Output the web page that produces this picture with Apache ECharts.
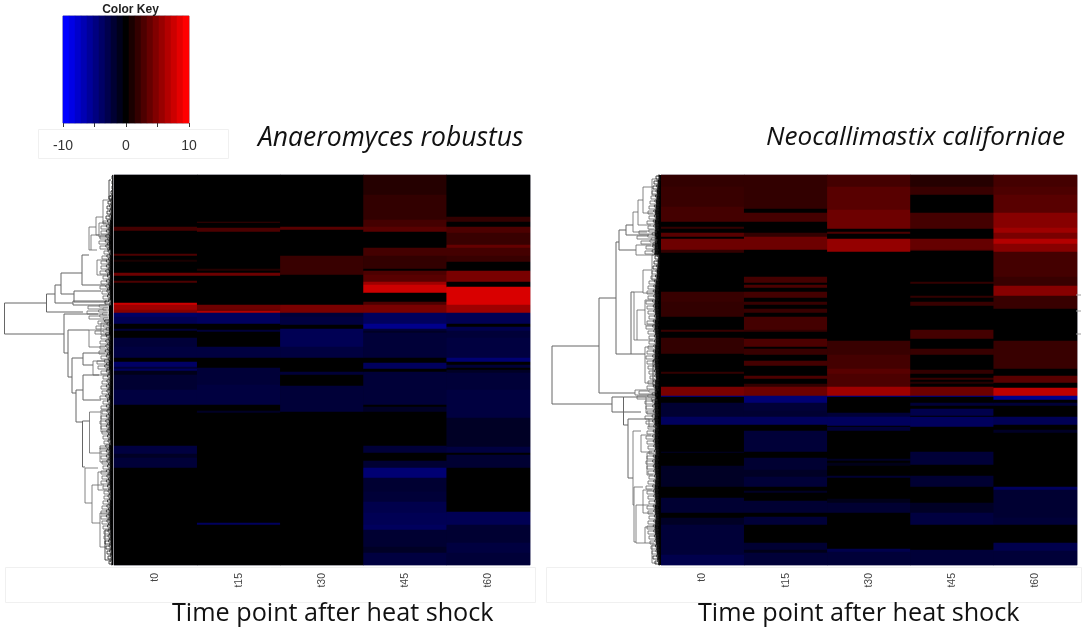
<!DOCTYPE html>
<html><head><meta charset="utf-8">
<style>html,body{margin:0;padding:0;background:#fff}#c{width:1084px;height:629px;filter:blur(0.45px)}</style>
<script src="https://cdn.jsdelivr.net/npm/echarts@6/dist/echarts.min.js"></script>
</head><body><div id="c"></div>
<script>
const timePoints = ['t0','t15','t30','t45','t60'];
const keySteps = [-10,-9,-8,-7,-6,-5,-4,-3,-2,-1,0,1,2,3,4,5,6,7,8,9,10];

// Each list: [row where the band ends, log2 fold change of that band]
const anaT0 = [[52,0],[56,2.7],[79,0],[81,3],[85,0],[87,1],[98,0],[101,4.3],[106,0],[108,3],[128,0],[130,8],[135,6.2],[138,5.3],[142,-4],[149,-3.3],[154,0],[156,-2.2],[163,0],[172,-2.2],[183,-2.5],[187,0],[192,-4],[194,-2.2],[196,-3.7],[200,-1],[215,-2],[230,-2.5],[271,0],[279,-2.5],[283,-1.5],[293,-2.2],[390,0]];
const anaT15 = [[47,0],[48,2.2],[53,0],[57,3],[94,0],[96,1.5],[98,0],[101,4.3],[130,0],[135,4.3],[136,3.5],[138,7],[149,-3.7],[155,0],[157,-2.2],[172,0],[183,-2.5],[193,0],[210,-2.2],[230,-2.5],[236,0],[238,-1.5],[348,0],[350,-3.7],[390,0]];
const anaT30 = [[52,0],[55,3.5],[81,0],[100,2.2],[130,0],[138,4.8],[142,-2.2],[150,-2.5],[154,0],[172,-3.3],[183,-2.5],[197,0],[200,-2.2],[211,0],[237,-2.2],[390,0]];
const anaT45 = [[20,1.5],[45,2],[52,2.7],[57,3.5],[73,0],[81,2.7],[94,2],[96,0],[100,3],[107,3.5],[110,6.2],[118,8],[127,0],[130,3],[138,4.8],[149,-3.7],[154,-5.5],[156,-2.2],[158,-1.5],[183,-2.2],[188,0],[194,-3.7],[197,0],[230,-2.2],[232,0],[237,-1.5],[271,0],[278,-2.2],[286,0],[293,-2],[303,-4.5],[317,-2],[327,-2.2],[338,-3],[350,-3.3],[355,-3.7],[372,-2],[378,-1.5],[390,-2.5]];
const anaT60 = [[42,0],[47,2],[52,0],[58,3],[70,2.2],[73,4],[81,2.7],[87,2.2],[96,0],[107,4.8],[112,0],[130,8.5],[138,6.2],[149,-3.3],[152,0],[156,-3],[163,-2.2],[183,-2.5],[187,-4.5],[190,0],[193,-2.2],[195,0],[198,-1.5],[215,-2.2],[243,-2.5],[272,-1.5],[278,-2.5],[280,0],[293,-2],[337,0],[350,-3.3],[368,-2],[378,-2.5],[390,-2.2]];

const neoT0 = [[12,2],[32,2.2],[47,2.7],[52,0],[54,2],[58,0],[62,3.5],[64,0],[75,4.3],[78,2],[117,0],[127,2.2],[142,2],[155,0],[157,2.2],[163,0],[179,2],[197,0],[199,2],[212,0],[221,4.8],[222,-5.5],[228,0],[242,-2],[250,-3.7],[277,0],[278,-1.5],[291,0],[312,-1.5],[323,0],[338,-2],[343,0],[350,-1.5],[368,-2.2],[380,-2.2],[390,-3]];
const neoT15 = [[34,2],[38,0],[47,2.7],[58,0],[62,2],[75,4.3],[102,0],[108,2.7],[110,0],[113,3],[117,0],[123,2.7],[127,0],[130,2.2],[134,0],[138,2.2],[142,0],[155,2.7],[157,2],[164,0],[172,3],[174,0],[180,2.2],[186,0],[191,2.7],[201,0],[204,3],[209,0],[212,2],[221,4.3],[228,-4.5],[236,-2.2],[242,-2],[250,-3.7],[256,0],[277,-2.2],[283,0],[295,-2],[302,-1.5],[312,-2.2],[316,0],[318,-1.5],[326,0],[338,-2],[342,0],[350,-2.2],[368,0],[375,-2],[378,-1],[390,-2.2]];
const neoT30 = [[12,2.7],[35,3.5],[54,4.3],[57,0],[59,3],[64,0],[77,5.8],[166,0],[180,2.2],[194,2.7],[199,3.5],[212,3],[221,6.2],[222,-5.5],[238,0],[242,-2.2],[251,-3.7],[252,0],[256,-2.2],[284,0],[286,-1.5],[288,0],[291,-1],[301,0],[303,-2],[324,0],[328,-1],[338,-2],[374,0],[377,-3],[390,-2.2]];
const neoT45 = [[12,1.5],[20,2.2],[38,0],[54,2.7],[64,0],[75,4],[76,2.7],[107,0],[109,2],[121,0],[123,2],[127,0],[131,2.2],[155,0],[164,2.7],[174,0],[180,2.2],[195,0],[199,2],[203,0],[205,2.2],[207,0],[209,1.5],[212,0],[221,4.3],[222,-5.5],[228,0],[231,-2.2],[234,0],[241,-3],[242,0],[252,-3.7],[277,0],[290,-2.2],[301,0],[312,-2],[328,0],[338,-1.5],[350,-2.5],[375,0],[390,-2.2]];
const neoT60 = [[12,2.7],[20,3],[38,3.5],[53,5.3],[58,6.2],[64,4.8],[69,7],[77,5.3],[102,2.7],[111,2.2],[121,5.3],[134,2.2],[166,0],[179,2.2],[194,2.2],[201,0],[208,3.5],[213,0],[221,7.5],[225,-5.5],[228,0],[231,-2.2],[242,0],[250,-3.3],[255,0],[258,-1.5],[312,0],[315,-3.7],[343,-2],[350,-2.2],[368,0],[376,-3],[390,-2.2]];

// Tree brackets: [height, top row, bottom row, height of top child, height of bottom child]
const anaTree = [[108.5,128,159,66.5,49],[66.5,119,137,58,30],[58,110,128,52,40],[52,98,119,31,39],[39,116,127,12,5],[40,126,130,6,3],[31,80,110,24,8],[24,52,75,17,22],[17,42,60,10,5],[22,60,75,14,16],[14,48,62,7,3],[10,25,48,5,4],[4,5,25,2,1],[16,85,100,6,5],
[49,139,178,15,45],[45,155,202,24,41],[24,155,172,12,8],[12,148,160,5,4],[41,183,218,30,37],[30,178,190,8,20],[20,186,200,10,6],[37,215,247,30,30.5],[30,200,225,14,12],[30.5,246,292,23.5,28],[23.5,237,278,12,13],[12,235,257,5,4],[13,273,287,6,5],[28,293,328,15,21],[15,297,315,7,6],[21,310,348,9,13],[13,338,372,6,8],[8,355,385,4,3]];
const neoTree = [[109,171,229,62,49],[62,123,218,45,26],[45,67,179,42,30],[42,55,75,35,25],[35,50,60,28,12],[28,37,57,23,14],[23,25,50,18,10],[18,12,38,9,8],[9,4,20,4,3],[25,70,80,10,7],[30,117,179,27,16],[27,117,165,18,24],[18,95,118,9,8],[9,80,105,4,3],[24,135,165,16,8],[16,125,150,8,6],[16,172,208,8,8],[8,185,210,4,3],[26,215,220,13,6],
[49,222,237,37.5,20],[37.5,222,250,15,33],[15,222,238,7,6],[33,244,303,12,28],[12,244,252,6,4],[28,256,330,20,27],[20,260,277,10,9],[14,278,300,7,8],[27,312,367,18,25],[18,315,338,9,8],[25,330,368,12,16],[16,352,368,8,7],[9,370,388,5,4]];

// Depth of the dense leaf fringe, one value for every 5 rows
const anaFringe = [1,1,1,2,4,5,6,6,7,10,12,12,13,14,13,9,11,12,12,13,10,12,13,11,10,8,25,26,24,15,17,18,12,13,13,14,12,16,15,12,10,11,12,11,13,10,12,11,12,13,12,11,10,9,13,12,12,11,10,12,11,12,10,9,9,10,11,12,12,11,10,9,9,8,7,6,5,4];
const neoFringe = [5,7,8,9,10,11,12,13,12,14,13,22,24,20,15,16,6,7,8,9,10,12,13,14,13,15,14,13,12,14,15,13,12,12,13,14,15,14,13,12,11,13,14,22,24,16,15,14,16,15,13,14,15,14,13,12,14,15,14,13,12,13,15,14,13,12,14,13,12,13,14,13,12,11,10,9,8,6];
const stubRows = [120,136,159];

const ROWS = 390;
const rowNames = Array.from({length:ROWS},(_,i)=>i);
function cells(cols){
  const out=[];
  cols.forEach((bands,c)=>{let s=0;bands.forEach(([e,v])=>{for(let r=s;r<e;r++)out.push([c,r,v]);s=e;});});
  return out;
}
function withFringe(tree,fringe){
  const out=tree.slice();
  fringe.forEach((d,i)=>{
    const r=i*5;
    out.push([d,r+1,r+4,d*0.55,d*0.4]);
    out.push([d*0.55,r,r+2,d*0.25,d*0.2]);
    out.push([d*0.4,r+3,r+5,d*0.2,d*0.15]);
  });
  return out;
}
function bracket(params,api){
  const h=api.value(0),a=api.value(1),b=api.value(2),ha=api.value(3),hb=api.value(4);
  return {type:'polyline',silent:true,shape:{points:[api.coord([ha,a]),api.coord([h,a]),api.coord([h,b]),api.coord([hb,b])]},
    style:{fill:null,stroke:h<9?'#222':'#666',lineWidth:h<30?0.8:1}};
}
function wedge(k){return function(params,api){
  const d=Math.min(api.value(0),14),r=api.value(1);
  const p=api.coord([Math.max(d*k,0.8),r]),q=api.coord([0,r+5]);
  return {type:'rect',silent:true,shape:{x:p[0],y:p[1],width:q[0]-p[0],height:q[1]-p[1]},style:{fill:'#000'}};
};}
const fringeData=f=>f.map((d,i)=>[d,i*5]);
const FT='"Open Sans"';
const heatAxisLabel={rotate:90,fontFamily:'Liberation Sans',fontSize:10.5,color:'#444',margin:8};
const chart=echarts.init(document.getElementById('c'),null,{renderer:'canvas'});
const heatGrid=(l,w)=>({left:l,width:w,top:175,height:ROWS,show:true,borderColor:'#b4b4c4',borderWidth:1,backgroundColor:'#000'});
const treeX=(i,m)=>({type:'value',gridIndex:i,min:0,max:m,inverse:true,show:false});
const treeY=i=>({type:'value',gridIndex:i,min:0,max:ROWS,inverse:true,show:false});
const catX=i=>({type:'category',gridIndex:i,data:timePoints,axisLine:{show:false},axisTick:{show:false},axisLabel:heatAxisLabel});
const catY=i=>({type:'category',gridIndex:i,data:rowNames,inverse:true,show:false});
chart.setOption({
  animation:false,
  backgroundColor:'#fff',
  title:[
    {text:'Color Key',left:125.5,top:-1,textAlign:'center',textStyle:{fontFamily:'Liberation Sans',fontSize:12,fontWeight:'bold',color:'#222'}},
    {text:'Anaeromyces robustus',left:253,top:120,textStyle:{fontFamily:FT,fontStyle:'italic',fontWeight:'normal',fontSize:26.5,color:'#111'}},
    {text:'Neocallimastix californiae',left:761,top:120,textStyle:{fontFamily:FT,fontStyle:'italic',fontWeight:'normal',fontSize:26.2,color:'#111'}},
    {text:'Time point after heat shock',left:167,top:596,textStyle:{fontFamily:FT,fontWeight:'normal',fontSize:25.2,color:'#111'}},
    {text:'Time point after heat shock',left:693,top:596,textStyle:{fontFamily:FT,fontWeight:'normal',fontSize:25.2,color:'#111'}}
  ],
  graphic:[
    {type:'rect',z:-1,shape:{x:38.5,y:129.5,width:190,height:29},style:{fill:'#fff',stroke:'#f0f0f0'}},
    {type:'rect',z:-1,shape:{x:5.5,y:567.5,width:530,height:35},style:{fill:'#fff',stroke:'#f0f0f0'}},
    {type:'rect',z:-1,shape:{x:546.5,y:567.5,width:535,height:35},style:{fill:'#fff',stroke:'#f0f0f0'}}
  ],
  visualMap:{show:false,type:'continuous',min:-10,max:10,dimension:2,seriesIndex:[0,1,2],inRange:{color:['#0000ff','#000000','#ff0000']}},
  grid:[
    {left:63,width:126,top:16,height:107,show:true,borderColor:'#8a8a9a',borderWidth:1},
    heatGrid(114,416),
    heatGrid(661,416),
    {left:0,width:113,top:175,height:ROWS},
    {left:545,width:116,top:175,height:ROWS},
    {left:1076,width:5,top:175,height:ROWS}
  ],
  xAxis:[
    {type:'category',gridIndex:0,data:keySteps,show:false},
    {type:'value',gridIndex:0,min:-10,max:10,interval:5,position:'bottom',splitLine:{show:false},
      axisLine:{show:false},axisTick:{show:true,length:4,lineStyle:{color:'#333'}},
      axisLabel:{margin:16,fontFamily:'Liberation Sans',fontSize:14,color:'#333',formatter:v=>(v%10===0?String(v):''),hideOverlap:false}},
    catX(1),catX(2),treeX(3,113),treeX(4,116),
    {type:'value',gridIndex:5,min:0,max:1,show:false}
  ],
  yAxis:[catY(0),catY(1),catY(2),treeY(3),treeY(4),treeY(5)].map((a,i)=>i===0?{type:'category',gridIndex:0,data:['k'],show:false}:a),
  series:[
    {type:'heatmap',xAxisIndex:0,yAxisIndex:0,silent:true,progressive:0,data:keySteps.map((v,i)=>[i,0,v])},
    {type:'heatmap',xAxisIndex:2,yAxisIndex:1,silent:true,progressive:0,data:cells([anaT0,anaT15,anaT30,anaT45,anaT60])},
    {type:'heatmap',xAxisIndex:3,yAxisIndex:2,silent:true,progressive:0,data:cells([neoT0,neoT15,neoT30,neoT45,neoT60])},
    {type:'custom',xAxisIndex:4,yAxisIndex:3,silent:true,clip:false,renderItem:wedge(0.3),data:fringeData(anaFringe)},
    {type:'custom',xAxisIndex:5,yAxisIndex:4,silent:true,clip:false,renderItem:wedge(0.45),data:fringeData(neoFringe)},
    {type:'custom',xAxisIndex:4,yAxisIndex:3,silent:true,clip:false,renderItem:bracket,data:withFringe(anaTree,anaFringe)},
    {type:'custom',xAxisIndex:5,yAxisIndex:4,silent:true,clip:false,renderItem:bracket,data:withFringe(neoTree,neoFringe)},
    {type:'custom',xAxisIndex:6,yAxisIndex:5,silent:true,clip:false,data:stubRows.map(r=>[r]),
      renderItem:(p,api)=>{const a=api.coord([0,api.value(0)]),b=api.coord([1,api.value(0)]);
        return {type:'line',shape:{x1:a[0],y1:a[1],x2:b[0],y2:b[1]},style:{stroke:'#999',lineWidth:1}};}}
  ]
});
</script></body></html>
